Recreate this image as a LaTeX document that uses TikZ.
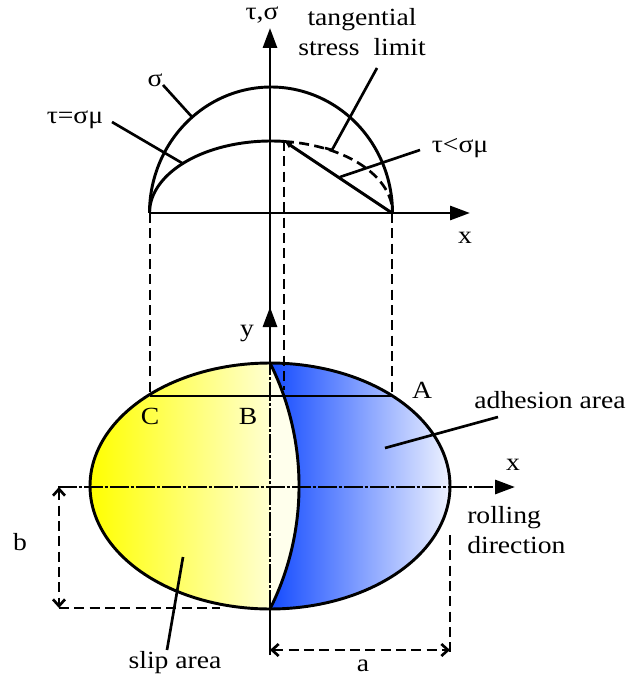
\documentclass[tikz,border=0pt]{standalone}
\usepackage{fontspec}
\setmainfont{Liberation Serif}
\usepackage{graphicx}
\usetikzlibrary{arrows.meta}
\definecolor{myyellow}{RGB}{255,255,0}
\definecolor{paleyellow}{RGB}{255,255,208}
\definecolor{cream}{RGB}{255,255,236}
\definecolor{deepblue}{RGB}{20,75,255}
\definecolor{paleblue}{RGB}{238,242,255}
\newcommand{\lbl}[1]{\scalebox{1.12}[1]{#1}}
\begin{document}
\begin{tikzpicture}[x=0.75pt,y=-0.75pt,
  mainline/.style={line width=2.2pt},
  leader/.style={line width=2pt},
  dashedline/.style={line width=2pt,dash pattern=on 7.5pt off 4pt},
  centerline/.style={line width=2.2pt,dash pattern=on 14pt off 1.5pt on 2.5pt off 1.5pt},
  axistip/.style={-{Triangle[length=15pt,width=10.5pt]}},
  dimtips/.style={{Straight Barb[length=5pt,width=9pt]}-{Straight Barb[length=5pt,width=9pt]}},
  txt/.style={font=\fontsize{18.5}{22.5}\selectfont, inner sep=0pt}]
\useasboundingbox (0,0) rectangle (638,677);

% ---------- contact ellipse fills ----------
\shade[left color=myyellow, right color=paleyellow]
  plot[domain=90:270,samples=90] ({270+180*cos(\x)},{486+123*sin(\x)}) -- cycle;
\fill[cream] (270,363) .. controls (308.7,440.3) and (308.7,531.7) .. (270,609) -- cycle;
\shade[left color=deepblue, right color=paleblue]
  plot[domain=-90:90,samples=90] ({270+180*cos(\x)},{486+123*sin(\x)})
  .. controls (308.7,531.7) and (308.7,440.3) .. (270,363) -- cycle;

% ---------- projection dashed lines ----------
\coordinate (C) at (150,396);
\coordinate (A) at (392,396);
\coordinate (Ctop) at (150,213);
\coordinate (Atop) at (392,213);
\coordinate (peak) at (284,141);
\coordinate (peakdown) at (284,390);
\draw[dashedline] (Ctop) -- (C);
\draw[dashedline] (Atop) -- (A);
\draw[dashedline] (peak) -- (peakdown);

% ---------- ellipse outline and stick/slip boundary ----------
\draw[mainline] plot[domain=0:360,samples=181] ({270+180*cos(\x)},{486+123*sin(\x)}) -- cycle;
\coordinate (ytop) at (270,363);
\coordinate (ybot) at (270,609);
\draw[mainline] (ytop) .. controls (308.7,440.3) and (308.7,531.7) .. (ybot);
\draw[mainline] (C) -- (A);

% ---------- lower axes ----------
\coordinate (xl) at (58,487);
\coordinate (xr) at (515,487);
\coordinate (ytip) at (270,307);
\coordinate (yend) at (270,655);
\draw[centerline, axistip] (xl) -- (xr);
\draw[mainline] (yend) -- (ybot);
\draw[centerline] (ybot) -- (ytop);
\draw[mainline, axistip] (ytop) -- (ytip);

% ---------- upper diagram ----------
\coordinate (taustart) at (270,320);
\coordinate (tautip) at (270,28);
\coordinate (sxtip) at (470,213);
\draw[mainline, axistip] (taustart) -- (tautip);
\draw[mainline, axistip] (Ctop) -- (sxtip);
\draw[mainline] plot[domain=180:360,samples=120] ({271+121.5*cos(\x)},{213+126*sin(\x)});
\draw[mainline] plot[domain=180:276.1,samples=80] ({271+121.5*cos(\x)},{213+72*sin(\x)});
\draw[dashedline] plot[domain=276.1:360,samples=60] ({271+121.5*cos(\x)},{213+72*sin(\x)});
\draw[mainline, -{Latex[length=6pt,width=5pt]}] (Atop) -- (peak);

% ---------- dimensions ----------
\coordinate (bbot) at (59,608);
\coordinate (bline) at (220,608);
\coordinate (aleft) at (270,650);
\coordinate (aright) at (450,650);
\coordinate (atop) at (450,535);
\coordinate (abot) at (450,657);
\draw[dashedline, dimtips] (59,487) -- (bbot);
\draw[dashedline] (bbot) -- (bline);
\draw[dashedline, dimtips] (aleft) -- (aright);
\draw[dashedline] (atop) -- (abot);

% ---------- labels ----------
\node[txt] (ltausig) at (262,15) {\lbl{τ,σ}};
\node[txt, align=center] (ltang) at (362,32) {\lbl{tangential}\\\lbl{stress\hspace{0.5em}limit}};
\node[txt] (lsig) at (155,80) {\lbl{σ}};
\node[txt] (ltaueq) at (75,120) {\lbl{τ=σμ}};
\node[txt] (ltaults) at (460,148) {\lbl{τ<σμ}};
\node[txt] (lx1) at (465,238) {\lbl{x}};
\node[txt] (ly) at (247,333) {\lbl{y}};
\node[txt] (lC) at (150,416) {\lbl{C}};
\node[txt] (lB) at (248,416) {\lbl{B}};
\node[txt] (lA) at (422,390) {\lbl{A}};
\node[txt] (ladh) at (550,400) {\lbl{adhesion area}};
\node[txt] (lx2) at (513,465) {\lbl{x}};
\node[txt, align=left, anchor=west] (lroll) at (467,530) {\lbl{rolling}\\\lbl{direction}};
\node[txt] (lb) at (20,542) {\lbl{b}};
\node[txt] (la) at (363,666) {\lbl{a}};
\node[txt] (lslip) at (175,663) {\lbl{slip area}};

% ---------- leader lines ----------
\coordinate (sigA) at (163,85);   \coordinate (sigB) at (192,117);
\coordinate (tauA) at (112,122);  \coordinate (tauB) at (182,163);
\coordinate (tanA) at (377,68);   \coordinate (tanB) at (332,150); \coordinate (tanC) at (325,148);
\coordinate (tltA) at (420,150);  \coordinate (tltB) at (340,177);
\coordinate (adhA) at (498,417);  \coordinate (adhB) at (385,448);
\coordinate (slipA) at (183,557); \coordinate (slipB) at (167,650);
\draw[leader] (sigA) -- (sigB);
\draw[leader] (tauA) -- (tauB);
\draw[leader] (tanA) -- (tanB) -- (tanC);
\draw[leader] (tltA) -- (tltB);
\draw[leader] (adhA) -- (adhB);
\draw[leader] (slipA) -- (slipB);
\end{tikzpicture}
\end{document}
